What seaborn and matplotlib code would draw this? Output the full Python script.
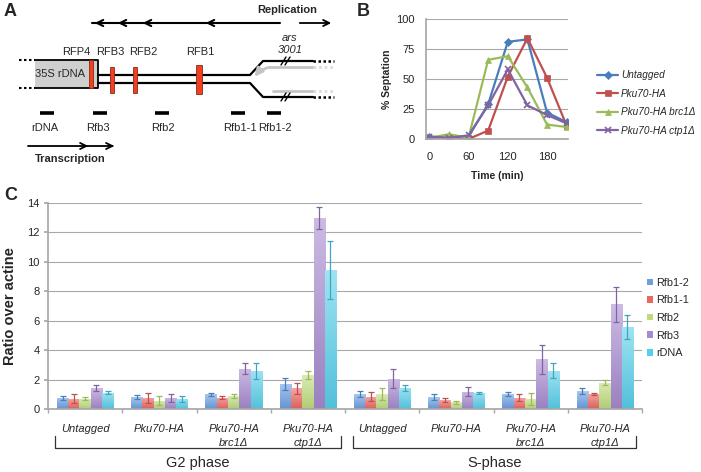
import numpy as np
import pandas as pd
import seaborn as sns
import matplotlib.pyplot as plt
from matplotlib.patches import Rectangle
from matplotlib.colors import to_rgb

sns.set_theme(style="white")
plt.rcParams['font.family'] = ['Liberation Sans', 'DejaVu Sans']

W, H = 701, 472

# --- panel B data: % septation over time ---
time_min = [0, 30, 60, 90, 120, 150, 180, 210]
sept_untagged = [2, 1, 2, 29, 81, 83, 22, 14]
sept_pku70 = [0, 0, 0, 7, 52, 84, 51, 11]
sept_brc1 = [1, 4, 1, 66, 69, 43, 12, 10]
sept_ctp1 = [2, 1, 3, 28, 58, 28, 20, 13]
strains = ["Untagged", "Pku70-HA", "Pku70-HA brc1Δ", "Pku70-HA ctp1Δ"]
strain_colors = ["#4A7EBB", "#C0504D", "#9BBB59", "#8064A2"]
strain_markers = ["D", "s", "^", "x"]

# --- panel C data: ratio over actine ---
groups = ["Untagged", "Pku70-HA", "Pku70-HA\nbrc1Δ", "Pku70-HA\nctp1Δ"] * 2
phases = ["G2 phase", "S-phase"]
probes = ["Rfb1-2", "Rfb1-1", "Rfb2", "Rfb3", "rDNA"]
ratio = {
    "Rfb1-2": [0.75, 0.80, 1.00, 1.70, 1.00, 0.80, 1.03, 1.20],
    "Rfb1-1": [0.70, 0.75, 0.75, 1.40, 0.83, 0.60, 0.77, 1.03],
    "Rfb2":   [0.70, 0.55, 0.90, 2.30, 1.00, 0.45, 0.70, 1.78],
    "Rfb3":   [1.40, 0.75, 2.75, 13.0, 2.05, 1.17, 3.37, 7.12],
    "rDNA":   [1.10, 0.70, 2.60, 9.45, 1.45, 1.10, 2.60, 5.57],
}
ratio_err = {
    "Rfb1-2": [0.12, 0.12, 0.12, 0.40, 0.20, 0.20, 0.15, 0.20],
    "Rfb1-1": [0.30, 0.35, 0.10, 0.35, 0.30, 0.15, 0.25, 0.05],
    "Rfb2":   [0.12, 0.30, 0.15, 0.25, 0.40, 0.12, 0.40, 0.17],
    "Rfb3":   [0.20, 0.25, 0.35, 0.75, 0.65, 0.30, 1.00, 1.20],
    "rDNA":   [0.10, 0.20, 0.55, 2.00, 0.20, 0.05, 0.50, 0.80],
}
bar_colors = ["#6A9FE2", "#EC6662", "#BEDC7C", "#A68ACF", "#58CFEA"]
err_colors = ["#4A7EBB", "#C0504D", "#9BBB59", "#8064A2", "#3FA6C2"]

# --- panel A schematic elements (pixel layout) ---
rfb_labels = ["RFP4", "RFB3", "RFB2", "RFB1"]
rfb_label_x = [76, 110, 143, 200]
rfb_x = [89, 110, 133, 196]
rfb_w = [4, 4, 4, 6]
rfb_top = [60, 67, 67, 65]
rfb_bot = [88, 93, 93, 94]
probe_names = ["rDNA", "Rfb3", "Rfb2", "Rfb1-1", "Rfb1-2"]
probe_x = [47, 100, 162, 238, 274]
probe_label_x = [45, 98, 163, 240, 275]
repl_heads = [92, 115, 140, 203]
transc_heads = [91, 117]

fig = plt.figure(figsize=(W / 100, H / 100), dpi=100)

# overlay for schematic and annotations, in pixel units
ov = fig.add_axes([0, 0, 1, 1])
ov.set_xlim(0, W)
ov.set_ylim(H, 0)
ov.axis("off")

def px_rect(left, top, right, bottom):
    return [left / W, 1 - bottom / H, (right - left) / W, (bottom - top) / H]

# ---------------- panel A ----------------
fs = 8
ov.text(4, 11, "A", fontsize=13, fontweight="bold", va="center")
ov.text(287, 10, "Replication", fontsize=fs, fontweight="bold", ha="center", va="center")
ov.plot([92, 280], [23, 23], color="black", lw=1.5)
for hx in repl_heads:
    ov.annotate("", xy=(hx, 23), xytext=(hx + 9, 23),
                arrowprops=dict(arrowstyle="->", color="black", lw=1.5, mutation_scale=11))
ov.annotate("", xy=(334, 23), xytext=(297, 23),
            arrowprops=dict(arrowstyle="->", color="black", lw=1.3, mutation_scale=11))

for lab, lx in zip(rfb_labels, rfb_label_x):
    ov.text(lx, 52, lab, fontsize=fs, ha="center", va="center")
ov.text(290, 38, "ars", fontsize=fs, style="italic", ha="center", va="center")
ov.text(290, 50, "3001", fontsize=fs, style="italic", ha="center", va="center")

# 35S rDNA box
ov.add_patch(Rectangle((35, 60), 63, 28, facecolor="#cfcfcf", edgecolor="none"))
ov.plot([35, 98, 98, 35], [60, 60, 88, 88], color="black", lw=1.3)
ov.plot([19, 35], [60, 60], color="black", lw=1.5, ls=(0, (1.2, 1.2)))
ov.plot([19, 35], [88, 88], color="black", lw=1.5, ls=(0, (1.2, 1.2)))
ov.text(60, 74, "35S rDNA", fontsize=fs, ha="center", va="center")

# double strand and fork
ov.plot([98, 250, 263, 313], [75, 75, 61, 61], color="black", lw=1.6)
ov.plot([98, 250, 263, 313], [83, 83, 97, 97], color="black", lw=1.6)
ov.plot([313, 334], [61, 61], color="black", lw=1.8, ls=(0, (1, 1)))
ov.plot([313, 334], [97, 97], color="black", lw=1.8, ls=(0, (1, 1)))
ov.plot([268, 313], [67, 67], color="#c4c4c4", lw=2)
ov.plot([313, 334], [67, 67], color="#dddddd", lw=2, ls=(0, (1, 1)))
ov.annotate("", xy=(253, 79), xytext=(270, 67),
            arrowprops=dict(arrowstyle="-|>", color="#c4c4c4", lw=2, mutation_scale=12,
                            connectionstyle="arc3,rad=0.2"))
ov.plot([273, 313], [91, 91], color="#c4c4c4", lw=2)
ov.plot([313, 334], [91, 91], color="#dddddd", lw=2, ls=(0, (1, 1)))
for yb in (61, 97):
    ov.plot([281, 286], [yb + 4, yb - 4], color="black", lw=1)
    ov.plot([285, 290], [yb + 4, yb - 4], color="black", lw=1)

for x0, w0, t0, b0 in zip(rfb_x, rfb_w, rfb_top, rfb_bot):
    ov.add_patch(Rectangle((x0, t0), w0, b0 - t0, facecolor="#F0401E",
                           edgecolor="#8a2a1a", lw=0.6, zorder=3))

for pxc, plx, plab in zip(probe_x, probe_label_x, probe_names):
    ov.plot([pxc - 7, pxc + 7], [113, 113], color="black", lw=2.6, solid_capstyle="butt")
    ov.text(plx, 128, plab, fontsize=fs, ha="center", va="center")

ov.plot([28, 112], [146, 146], color="black", lw=1.3)
for hx in transc_heads:
    ov.annotate("", xy=(hx, 146), xytext=(hx - 9, 146),
                arrowprops=dict(arrowstyle="->", color="black", lw=1.3, mutation_scale=11))
ov.text(70, 159, "Transcription", fontsize=fs, fontweight="bold", ha="center", va="center")

# ---------------- panel B ----------------
ov.text(357, 11, "B", fontsize=13, fontweight="bold", va="center")
axB = fig.add_axes(px_rect(426, 19, 568, 139))
sept = [sept_untagged, sept_pku70, sept_brc1, sept_ctp1]
for name, vals, col, mk in zip(strains, sept, strain_colors, strain_markers):
    sns.lineplot(x=time_min, y=vals, color=col, marker=mk, markersize=4.5 if mk != "x" else 5,
                 markeredgecolor=col, markeredgewidth=1.2 if mk == "x" else 0.5,
                 lw=1.6, ax=axB, label=name)
axB.set_xlim(-5, 212)
axB.set_ylim(0, 100)
axB.set_xticks([0, 60, 120, 180])
axB.set_yticks([0, 25, 50, 75, 100])
axB.yaxis.grid(True, color="#a8a8a8", lw=0.8)
axB.set_axisbelow(True)
for s in ["top", "right"]:
    axB.spines[s].set_visible(False)
axB.spines["left"].set_color("#a8a8a8")
axB.spines["bottom"].set_color("#a8a8a8")
axB.tick_params(axis="x", labelsize=8, length=0, pad=9)
axB.tick_params(axis="y", labelsize=8, length=0, pad=8)
axB.set_xlabel("Time (min)", fontsize=7.5, fontweight="bold", labelpad=7)
axB.set_ylabel("% Septation", fontsize=7.5, fontweight="bold", labelpad=3)
axB.legend(loc="center left", bbox_to_anchor=(592 / W, 1 - 103 / H),
           bbox_transform=fig.transFigure, frameon=False,
           prop=dict(style="italic", size=7.2), handlelength=2.1, handletextpad=0.3,
           labelspacing=0.85, borderpad=0)

# ---------------- panel C ----------------
ov.text(4, 196, "C", fontsize=13, fontweight="bold", va="center")
axC = fig.add_axes(px_rect(48, 203, 642, 409))
keys = [f"{ph}|{g}" for ph in phases for g in groups[:4]]
rows = []
for p in probes:
    for k, v, e in zip(keys, ratio[p], ratio_err[p]):
        rows.append(dict(group=k, probe=p, value=v, err=e))
dfC = pd.DataFrame(rows)
sns.barplot(data=dfC, x="group", y="value", hue="probe", order=keys, hue_order=probes,
            palette=bar_colors, width=0.76, saturation=1, errorbar=None,
            legend=True, ax=axC, linewidth=0)

for cont, p, base, ecol in zip(axC.containers, probes, bar_colors, err_colors):
    xs, hs = [], []
    for patch in cont:
        x0, w0, h0 = patch.get_x(), patch.get_width(), patch.get_height()
        xs.append(x0 + w0 / 2)
        hs.append(h0)
        c = np.array(to_rgb(base))
        light = c + (1 - c) * 0.42
        grad = np.linspace(light, c * 0.93, 64)[:, None, :]
        im = axC.imshow(grad, extent=(x0, x0 + w0, 0, h0), aspect="auto",
                        origin="upper", zorder=2, interpolation="bilinear")
        im.set_clip_path(patch)
        patch.set_facecolor("none")
    axC.errorbar(xs, hs, yerr=ratio_err[p], fmt="none", ecolor=ecol,
                 elinewidth=0.9, capsize=2.2, capthick=0.9, zorder=4)

axC.set_xlim(-0.5, 7.5)
axC.set_ylim(0, 14)
axC.set_yticks(range(0, 15, 2))
axC.yaxis.grid(True, color="#a8a8a8", lw=0.8)
axC.set_axisbelow(True)
for s in ["top", "right"]:
    axC.spines[s].set_visible(False)
axC.spines["left"].set_color("#a8a8a8")
axC.spines["bottom"].set_color("#a8a8a8")
axC.set_xticks(range(8))
axC.set_xticklabels(groups, fontsize=8, style="italic", va="top", linespacing=1.45)
axC.set_xticks(np.arange(-0.5, 8, 1), minor=True)
axC.tick_params(axis="x", which="major", length=0, pad=11)
axC.tick_params(axis="x", which="minor", length=3, color="#a8a8a8", direction="out", bottom=True)
axC.tick_params(axis="y", length=3, color="#a8a8a8", direction="out", left=True, labelsize=8, pad=3)
axC.set_xlabel("")
axC.set_ylabel("Ratio over actine", fontsize=10.5, fontweight="bold", labelpad=7)

handles, labels = axC.get_legend_handles_labels()
axC.legend(handles, probes, loc="center left", bbox_to_anchor=(642 / W, 1 - 318 / H),
           bbox_transform=fig.transFigure, frameon=False, fontsize=7.8,
           handlelength=0.55, handleheight=0.55, handletextpad=0.25,
           labelspacing=0.7, borderpad=0)

# phase brackets
for (l, r), ph in zip([(55, 341), (353, 636)], phases):
    ov.plot([l, l, r, r], [436, 448, 448, 436], color="#333333", lw=0.9)
    ov.text((l + r) / 2, 463, ph, fontsize=10.5, ha="center", va="center")

fig.savefig("out.png", dpi=100)
